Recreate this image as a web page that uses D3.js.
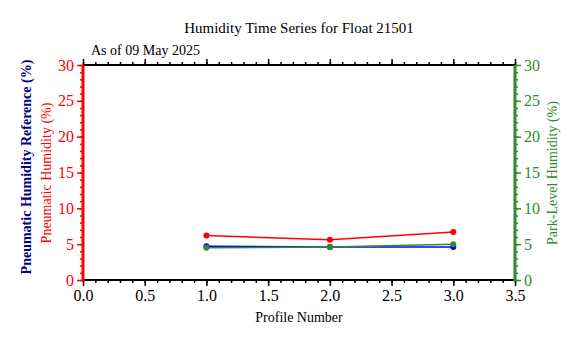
<!DOCTYPE html>
<html><head><meta charset="utf-8">
<script src="https://cdn.jsdelivr.net/npm/d3@7"></script>
<style>body{margin:0;background:#fff}svg{display:block}</style>
</head><body><svg id="c" width="577" height="338"></svg>
<script>
const profiles = [1, 2, 3];
const pneumaticHumidity = [6.2, 5.6, 6.7];
const pneumaticReference = [4.7, 4.6, 4.6];
const parkHumidity = [4.5, 4.6, 5.0];
const xTicks = [0, 0.5, 1, 1.5, 2, 2.5, 3, 3.5];
const yTicks = [0, 5, 10, 15, 20, 25, 30];
const title = "Humidity Time Series for Float 21501";
const subtitle = "As of 09 May 2025";

const FONT = "Liberation Serif";
const svg = d3.select("#c").attr("font-family", FONT);
const L = 83, R = 515, T = 65, B = 280;
const x = d3.scaleLinear().domain([0, 3.5]).range([L, R]);
const y = d3.scaleLinear().domain([0, 30]).range([B, T]);
const RED = "#ff0000", BLUE = "#0000ff", GREEN = "#2e8b2e", NAVY = "#000080";
const fs = 15;

function txt(sel) { return sel.attr("font-family", FONT); }

txt(svg.append("text")).attr("x", 299).attr("y", 33).attr("text-anchor", "middle")
  .attr("font-size", fs).attr("fill", "#000").text(title);
txt(svg.append("text")).attr("x", 91).attr("y", 55).attr("font-size", fs - 1).attr("fill", "#000").text(subtitle);

const xMinor = d3.range(0, 3.5001, 0.1);
const yMinor = d3.range(0, 30.001, 1);

function xAxis(gen, pos, labels) {
  const a = svg.append("g").attr("transform", `translate(0,${pos})`)
    .call(gen(x).tickValues(xMinor).tickSize(3).tickFormat(""));
  a.select(".domain").remove();
  a.selectAll("line").attr("stroke", "#000").attr("stroke-width", 1.5);
  const b = svg.append("g").attr("transform", `translate(0,${pos})`)
    .call(gen(x).tickValues(xTicks).tickSize(6).tickPadding(4).tickFormat(labels ? d3.format(".1f") : ""));
  b.attr("font-family", FONT).attr("font-size", fs + 1);
  b.select(".domain").remove();
  b.selectAll("line").attr("stroke", "#000").attr("stroke-width", 1.5);
  b.selectAll("text").attr("fill", "#000");
  svg.append("line").attr("x1", L).attr("x2", R).attr("y1", pos).attr("y2", pos).attr("stroke", "#000").attr("stroke-width", 2);
}
xAxis(d3.axisBottom, B, true);
xAxis(d3.axisTop, T, false);

function yAxis(gen, pos, color) {
  const a = svg.append("g").attr("transform", `translate(${pos},0)`)
    .call(gen(y).tickValues(yMinor).tickSize(3).tickFormat(""));
  a.select(".domain").remove();
  a.selectAll("line").attr("stroke", color).attr("stroke-width", 1.5);
  const b = svg.append("g").attr("transform", `translate(${pos},0)`)
    .call(gen(y).tickValues(yTicks).tickSize(6).tickPadding(3));
  b.attr("font-family", FONT).attr("font-size", fs + 1);
  b.select(".domain").remove();
  b.selectAll("line").attr("stroke", color).attr("stroke-width", 1.5);
  b.selectAll("text").attr("fill", color);
  svg.append("line").attr("x1", pos).attr("x2", pos).attr("y1", T).attr("y2", B + 1)
    .attr("stroke", color).attr("stroke-width", 3);
}
yAxis(d3.axisLeft, L, RED);
yAxis(d3.axisRight, R, GREEN);

txt(svg.append("text")).attr("transform", `translate(299,322)`).attr("text-anchor", "middle")
  .attr("font-size", fs - 1).text("Profile Number");
txt(svg.append("text")).attr("transform", `translate(31,167) rotate(-90)`).attr("text-anchor", "middle")
  .attr("font-size", fs - 1).attr("font-weight", "bold").attr("fill", NAVY).text("Pneumatic Humidity Reference (%)");
txt(svg.append("text")).attr("transform", `translate(51,173) rotate(-90)`).attr("text-anchor", "middle")
  .attr("font-size", fs - 1).attr("fill", RED).text("Pneumatic Humidity (%)");
txt(svg.append("text")).attr("transform", `translate(557,173) rotate(-90)`).attr("text-anchor", "middle")
  .attr("font-size", fs - 1).attr("fill", GREEN).text("Park-Level Humidity (%)");

function series(vals, color) {
  const pts = profiles.map((p, i) => [p, vals[i]]);
  svg.append("path").datum(pts).attr("fill", "none").attr("stroke", color).attr("stroke-width", 1.5)
    .attr("d", d3.line().x(d => x(d[0])).y(d => y(d[1])));
  svg.append("g").selectAll("circle").data(pts).join("circle")
    .attr("cx", d => x(d[0])).attr("cy", d => y(d[1])).attr("r", 3).attr("fill", color);
}
series(pneumaticReference, BLUE);
series(parkHumidity, GREEN);
series(pneumaticHumidity, RED);
</script></body></html>
